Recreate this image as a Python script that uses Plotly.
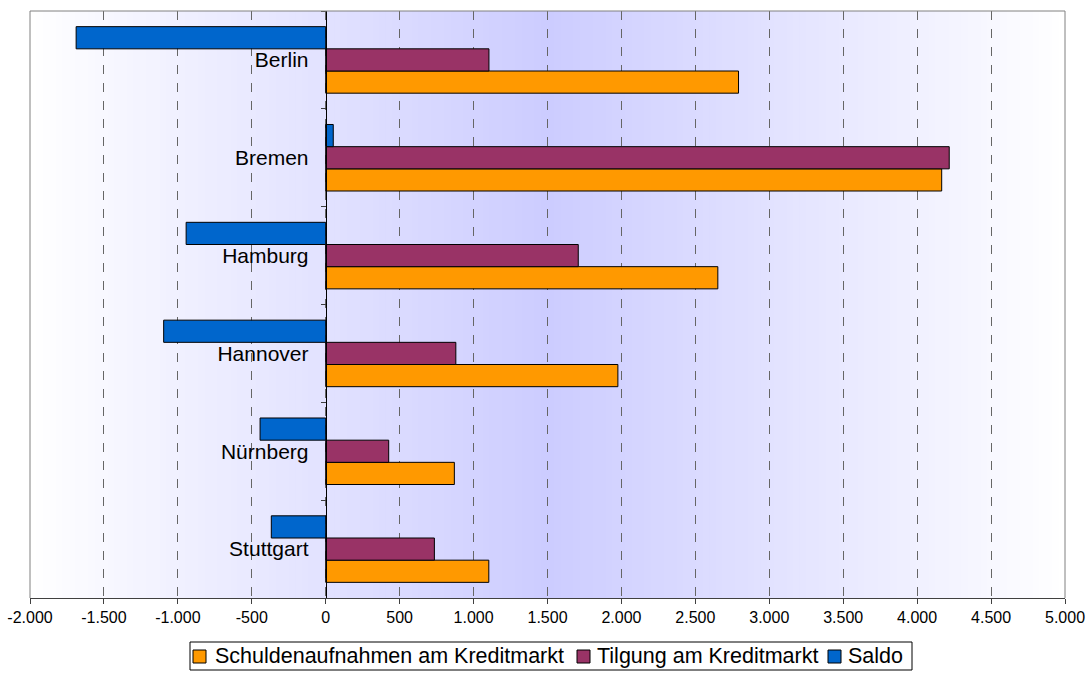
import plotly.graph_objects as go

# Städte (von oben nach unten) und Werte in Mio. EUR
cities = ["Berlin", "Bremen", "Hamburg", "Hannover", "Nürnberg", "Stuttgart"]
schulden = [2792, 4166, 2652, 1976, 870, 1103]
tilgung = [1104, 4217, 1708, 880, 426, 735]
saldo = [-1688, 51, -944, -1096, -444, -368]

x_ticks = list(range(-2000, 5001, 500))
x_tick_labels = [f"{v:,}".replace(",", ".") for v in x_ticks]

series = [
    ("Schuldenaufnahmen am Kreditmarkt", schulden, "#FF9900"),
    ("Tilgung am Kreditmarkt", tilgung, "#993366"),
    ("Saldo", saldo, "#0066CC"),
]

FONT = "Arial, Liberation Sans, sans-serif"
W, H = 1086, 675
ML, MR, MT, MB = 30, 21, 11, 77
PW, PH = W - ML - MR, H - MT - MB


def px_x(px):
    """pixel column -> paper x"""
    return (px - ML) / PW


def px_y(py):
    """pixel row -> paper y"""
    return (H - MB - py) / PH


fig = go.Figure()
for name, vals, color in series:
    fig.add_trace(go.Bar(
        y=cities, x=vals, name=name, orientation="h",
        marker=dict(color=color, line=dict(color="black", width=1)),
        showlegend=False,
    ))

# horizontal gradient background: white at the edges, lavender in the middle
shapes = []
n = 160
lo = (255, 255, 255)
hi = (204, 204, 255)
for i in range(n):
    x0 = i / n
    x1 = (i + 1) / n
    mid = (x0 + x1) / 2
    t = 1 - abs(mid - 0.5) / 0.5
    c = tuple(round(lo[k] + (hi[k] - lo[k]) * t) for k in range(3))
    shapes.append(dict(
        type="rect", xref="x domain", yref="y domain",
        x0=x0, x1=min(1, x1 + 0.002), y0=0, y1=1,
        fillcolor=f"rgb{c}", line=dict(width=0), layer="below",
    ))
# plot-area frame (left, top, right)
shapes.append(dict(
    type="path", xref="x domain", yref="y domain",
    path="M 0 0 L 0 1 L 1 1 L 1 0",
    line=dict(color="#808080", width=1), layer="above",
))

# legend box below the plot: frame, colour squares and labels
annotations = []
shapes.append(dict(
    type="rect", xref="paper", yref="paper",
    x0=px_x(190), x1=px_x(912), y0=px_y(670), y1=px_y(642),
    line=dict(color="black", width=1), fillcolor="white", layer="above",
))
legend_pos = [(193, 213), (577, 595), (828, 846)]
for (name, _, color), (sq, tx) in zip(series, legend_pos):
    shapes.append(dict(
        type="rect", xref="paper", yref="paper",
        x0=px_x(sq), x1=px_x(sq + 13), y0=px_y(663), y1=px_y(650),
        line=dict(color="black", width=1), fillcolor=color, layer="above",
    ))
    annotations.append(dict(
        text=name, xref="paper", yref="paper", x=px_x(tx), y=px_y(656),
        xanchor="left", yanchor="middle", showarrow=False,
        font=dict(size=21.5, family=FONT, color="black"),
    ))

fig.update_layout(
    width=W, height=H,
    margin=dict(l=ML, r=MR, t=MT, b=MB, autoexpand=False),
    paper_bgcolor="white", plot_bgcolor="white",
    font=dict(family=FONT, color="black"),
    barmode="group", bargap=0.32, bargroupgap=0,
    shapes=shapes, annotations=annotations,
    showlegend=False,
    xaxis=dict(
        range=[-2000, 5000], domain=[0, 1],
        tickvals=x_ticks, ticktext=x_tick_labels,
        tickfont=dict(size=16, family=FONT),
        ticks="outside", ticklen=5, tickcolor="#404040",
        showline=True, linecolor="#404040", linewidth=1,
        showgrid=True, gridcolor="#666666", gridwidth=1, griddash="dash",
        zeroline=False, fixedrange=True, automargin=False,
    ),
    yaxis=dict(
        categoryorder="array", categoryarray=cities[::-1],
        anchor="free", position=2 / 7,
        tickfont=dict(size=21, family=FONT),
        ticks="outside", ticklen=5, tickcolor="#404040", tickson="boundaries",
        ticklabelstandoff=13,
        showline=True, linecolor="black", linewidth=1,
        showgrid=False, zeroline=False, fixedrange=True, automargin=False,
    ),
)

fig.write_html("out.html")
